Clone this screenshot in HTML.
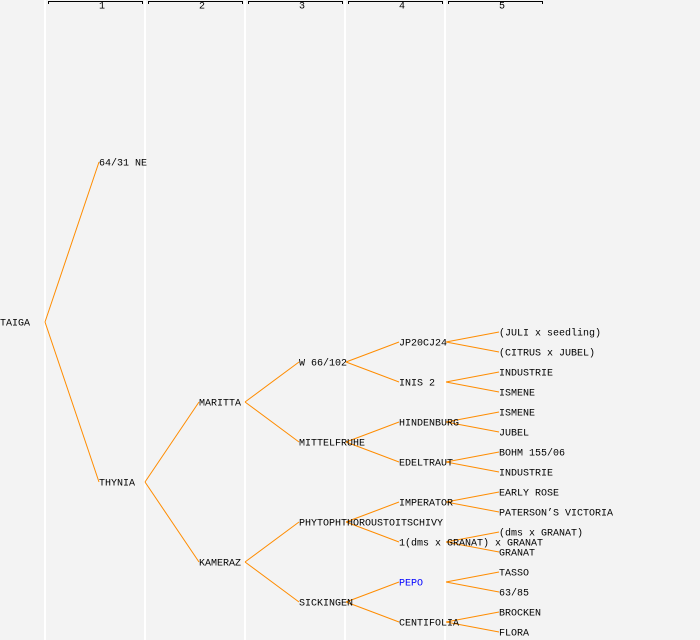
<!DOCTYPE html>
<html><head><meta charset="utf-8"><style>
html,body{margin:0;padding:0;background:#f3f3f3}
svg{display:block}
text{font-family:"Liberation Mono",monospace;font-size:10px;fill:#000;dominant-baseline:central}
</style></head><body>
<svg width="700" height="640" viewBox="0 0 700 640" xmlns="http://www.w3.org/2000/svg">
<rect width="700" height="640" fill="#f3f3f3"/>
<g fill="#fff">
<rect x="44" y="0" width="2" height="640"/><rect x="144" y="0" width="2" height="640"/>
<rect x="244" y="0" width="2" height="640"/><rect x="344" y="0" width="2" height="640"/>
<rect x="444" y="0" width="2" height="640"/>
</g>
<g stroke="#000" fill="none" stroke-width="1">
<path d="M48.5 4V1.5H142.5V4"/><path d="M148.5 4V1.5H242.5V4"/><path d="M248.5 4V1.5H342.5V4"/>
<path d="M348.5 4V1.5H442.5V4"/><path d="M448.5 4V1.5H542.5V4"/>
</g>
<g style="font-size:8px" text-anchor="middle">
<text x="102" y="7">1</text><text x="202" y="7">2</text><text x="302" y="7">3</text><text x="402" y="7">4</text><text x="502" y="7">5</text>
</g>
<g stroke="#ff8c00" stroke-width="1" fill="none">
<path d="M45 322L99 162M45 322L99 482"/>
<path d="M145 482L199 402M145 482L199 562"/>
<path d="M245 402L299 362M245 402L299 442M245 562L299 522M245 562L299 602"/>
<path d="M346 362L399 342M346 362L399 382M346 442L399 422M346 442L399 462M346 522L399 502M346 522L399 542M346 602L399 582M346 602L399 622"/>
<path d="M446 342L499 332M446 342L499 352M446 382L499 372M446 382L499 392M446 422L499 412M446 422L499 432M446 462L499 452M446 462L499 472M446 502L499 492M446 502L499 512M446 542L499 532M446 542L499 552M446 582L499 572M446 582L499 592M446 622L499 612M446 622L499 632"/>
</g>
<g transform="translate(0,2)">
<text x="0" y="322">TAIGA</text>
<text x="99" y="162">64/31 NE</text>
<text x="99" y="482">THYNIA</text>
<text x="199" y="402">MARITTA</text>
<text x="199" y="562">KAMERAZ</text>
<text x="299" y="362">W 66/102</text>
<text x="299" y="442">MITTELFRUHE</text>
<text x="299" y="522">PHYTOPHTHOROUSTOITSCHIVY</text>
<text x="299" y="602">SICKINGEN</text>
<text x="399" y="342">JP20CJ24</text>
<text x="399" y="382">INIS 2</text>
<text x="399" y="422">HINDENBURG</text>
<text x="399" y="462">EDELTRAUT</text>
<text x="399" y="502">IMPERATOR</text>
<text x="399" y="542">1(dms x GRANAT) x GRANAT</text>
<text x="399" y="582" style="fill:#0000ff">PEPO</text>
<text x="399" y="622">CENTIFOLIA</text>
<text x="499" y="332">(JULI x seedling)</text>
<text x="499" y="352">(CITRUS x JUBEL)</text>
<text x="499" y="372">INDUSTRIE</text>
<text x="499" y="392">ISMENE</text>
<text x="499" y="412">ISMENE</text>
<text x="499" y="432">JUBEL</text>
<text x="499" y="452">BOHM 155/06</text>
<text x="499" y="472">INDUSTRIE</text>
<text x="499" y="492">EARLY ROSE</text>
<text x="499" y="512">PATERSON’S VICTORIA</text>
<text x="499" y="532">(dms x GRANAT)</text>
<text x="499" y="552">GRANAT</text>
<text x="499" y="572">TASSO</text>
<text x="499" y="592">63/85</text>
<text x="499" y="612">BROCKEN</text>
<text x="499" y="632">FLORA</text>
</g>
</svg>
</body></html>
